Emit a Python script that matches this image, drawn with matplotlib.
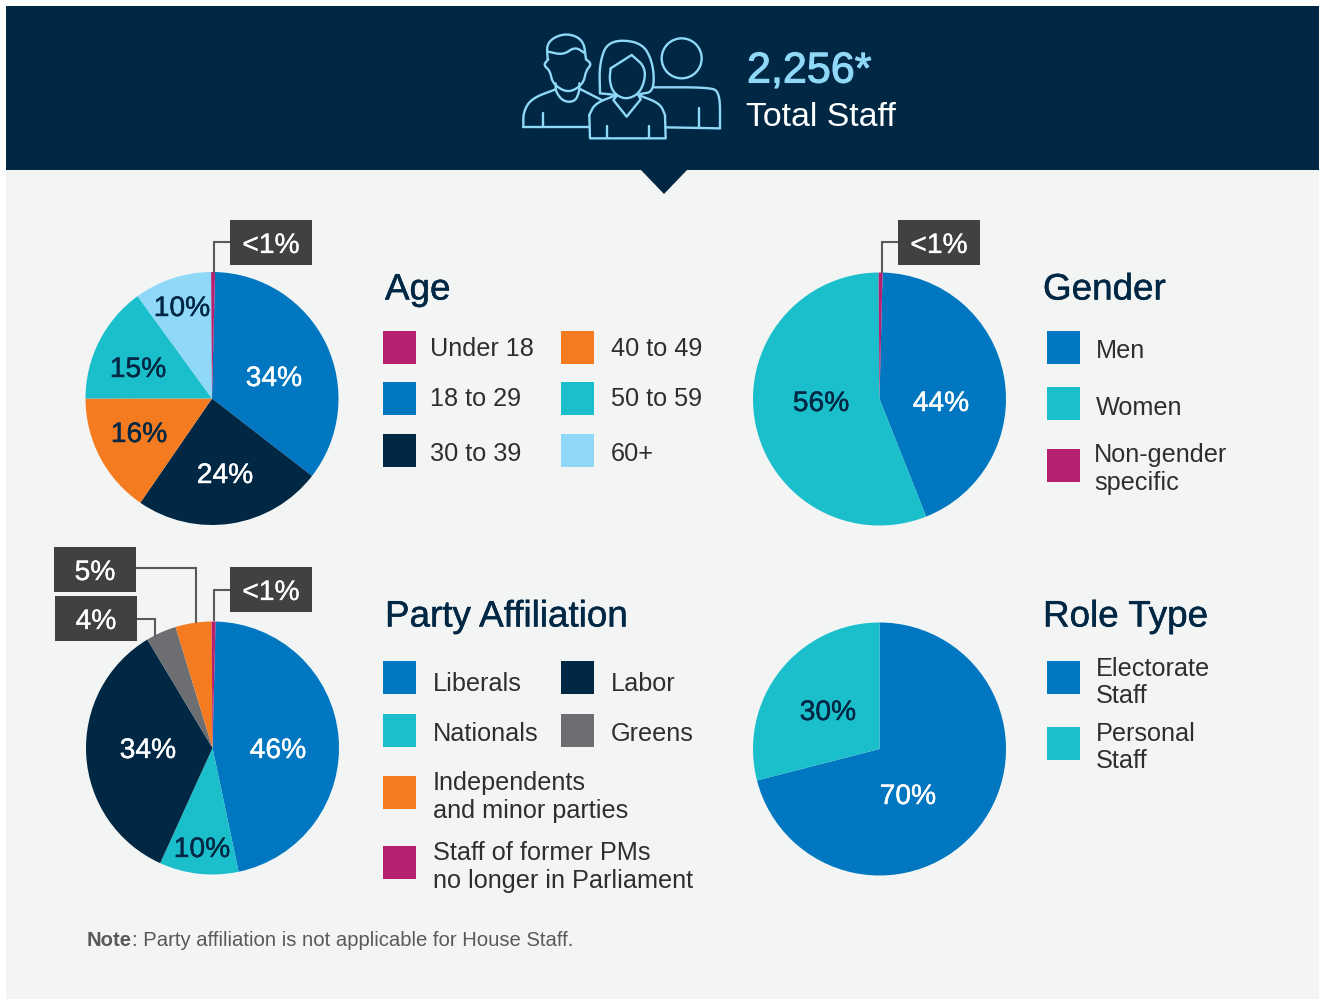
import matplotlib
matplotlib.use("Agg")
import matplotlib.pyplot as plt
import matplotlib.patheffects as pe
from matplotlib.patches import Rectangle, Polygon, Circle

plt.rcParams['font.family'] = ['Liberation Sans', 'DejaVu Sans']

W, H = 1319, 999

BLUE = "#0077C0"
NAVY = "#002744"
TEAL = "#1BBFCB"
ORANGE = "#F47B20"
MAGENTA = "#B7206F"
SKY = "#8FD8F8"
GREY = "#6D6E71"
BG = "#F3F5F5"
BOX = "#414042"
TEXT = "#2E2E30"

# slice sizes, printed labels are further down
age_names = ["18 to 29", "30 to 39", "40 to 49", "50 to 59", "60+", "Under 18"]
age_values = [35.1, 24.1, 15.4, 15.0, 9.9, 0.5]
age_labels = ["34%", "24%", "16%", "15%", "10%"]

gender_names = ["Men", "Women", "Non-gender specific"]
gender_values = [43.6, 55.9, 0.5]
gender_labels = ["44%", "56%"]

party_names = ["Liberals", "Nationals", "Labor", "Greens", "Independents and minor parties", "Staff of former PMs"]
party_values = [46.3, 10.1, 34.6, 3.9, 4.6, 0.5]
party_labels = ["46%", "10%", "34%"]

role_names = ["Electorate Staff", "Personal Staff"]
role_values = [71.0, 29.0]
role_labels = ["70%", "30%"]

fig = plt.figure(figsize=(W / 100, H / 100), dpi=100, facecolor="white")
bg = fig.add_axes([0, 0, 1, 1])
bg.set_xlim(0, W)
bg.set_ylim(H, 0)
bg.axis("off")


def draw_pie(cx, cy, r, values, colors, start=88.6):
    ax = fig.add_axes([(cx - r) / W, 1 - (cy + r) / H, 2 * r / W, 2 * r / H], zorder=2)
    ax.pie(values, colors=colors, startangle=start, counterclock=False, radius=1,
           wedgeprops={"linewidth": 0})
    ax.set_xlim(-1, 1)
    ax.set_ylim(-1, 1)
    return ax


def smooth(pts, n=3):
    # corner cutting, keeps the ends in place
    for _ in range(n):
        out = [pts[0]]
        for a, b in zip(pts[:-1], pts[1:]):
            out.append((0.75 * a[0] + 0.25 * b[0], 0.75 * a[1] + 0.25 * b[1]))
            out.append((0.25 * a[0] + 0.75 * b[0], 0.25 * a[1] + 0.75 * b[1]))
        out.append(pts[-1])
        pts = out
    return pts


def icon_line(pts, curved=True):
    # icon points were read from the 3x zoom of the header
    if curved:
        pts = smooth(pts)
    xs = [500 + p[0] / 3 for p in pts]
    ys = [p[1] / 3 for p in pts]
    fg.plot(xs, ys, color=SKY, lw=1.7, solid_capstyle="round", solid_joinstyle="round")


def medium(w=0.3, color="white"):
    # Liberation has no medium weight, a thin outline gets close
    return [pe.withStroke(linewidth=w, foreground=color)]


def callout(x0, y0, x1, y1, label, line):
    xs, ys = zip(*line)
    fg.plot(xs, ys, color="#58595B", lw=1.5, solid_joinstyle="miter", zorder=1)
    fg.add_patch(Rectangle((x0, y0), x1 - x0, y1 - y0, color=BOX, lw=0, zorder=2))
    fg.text((x0 + x1) / 2, (y0 + y1) / 2 + 3.5, label, color="white", fontsize=20.3,
            ha="center", va="center", zorder=3, path_effects=medium(0.2))


def legend_item(x, y, color, tx, lines, tys):
    fg.add_patch(Rectangle((x, y), 33, 33, color=color, lw=0))
    for s, ty in zip(lines, tys):
        fg.text(tx, ty + 2, s, color=TEXT, fontsize=18.2, ha="left", va="center")


# background and header
bg.add_patch(Rectangle((6, 170), W - 6, H - 170, color=BG, lw=0))
bg.add_patch(Rectangle((6, 6), W - 6, 164, color=NAVY, lw=0))
bg.add_patch(Polygon([(640, 169), (688, 169), (664, 194)], color=NAVY, lw=0))

# pies
draw_pie(212, 398.5, 126.5, age_values, [BLUE, NAVY, ORANGE, TEAL, SKY, MAGENTA])
draw_pie(879.5, 399, 126.5, gender_values, [BLUE, TEAL, MAGENTA])
draw_pie(212.5, 748, 126.5, party_values, [BLUE, TEAL, NAVY, GREY, ORANGE, MAGENTA])
draw_pie(879.5, 749, 126.5, role_values, [BLUE, TEAL], start=90)

# everything else sits on a transparent layer above the pies
fg = fig.add_axes([0, 0, 1, 1], zorder=3)
fg.set_xlim(0, W)
fg.set_ylim(H, 0)
fg.axis("off")
fg.patch.set_alpha(0)

# icon: man
icon_line([(143, 178), (140, 125), (195, 98), (250, 118), (258, 178)])
icon_line([(145, 155), (190, 165), (225, 140), (255, 160)])
icon_line([(145, 178), (130, 195), (150, 212), (158, 252), (205, 280), (250, 252), (258, 212), (275, 192), (258, 178)])
icon_line([(167, 250), (167, 275), (190, 305), (225, 305), (238, 275), (238, 250)])
icon_line([(167, 268), (95, 295), (70, 335), (70, 380)])
icon_line([(70, 380), (268, 380)], False)
icon_line([(238, 266), (305, 300)], False)
icon_line([(128, 338), (128, 380)], False)
# icon: person at the back
fg.add_patch(Circle((500 + 545 / 3, 175 / 3), 60 / 3, fill=False, ec=SKY, lw=1.7))
icon_line([(462, 262), (625, 262), (660, 275), (660, 385)])
icon_line([(497, 382), (660, 385)], False)
icon_line([(598, 325), (598, 382)], False)
# icon: woman
icon_line([(300, 280), (298, 190), (325, 120), (425, 125), (460, 190), (462, 275), (420, 282)])
icon_line([(300, 280), (350, 285)], False)
icon_line([(332, 205), (395, 165)], False)
icon_line([(395, 165), (440, 205), (425, 275), (380, 300), (340, 280), (328, 240), (332, 205)])
icon_line([(350, 285), (285, 310), (268, 345)])
icon_line([(268, 345), (270, 415), (497, 415), (495, 345)], False)
icon_line([(495, 345), (480, 310), (415, 285)])
icon_line([(350, 288), (340, 300), (380, 350), (422, 298), (415, 285)], False)
icon_line([(322, 378), (322, 415)], False)
icon_line([(448, 378), (448, 415)], False)

fg.text(747, 71.5, "2,256*", color=SKY, fontsize=31, ha="left", va="center",
        path_effects=medium(0.8, SKY))
fg.text(746, 118, "Total Staff", color="white", fontsize=24.4, ha="left", va="center")

# callouts
callout(230, 220, 312, 265, "<1%", [(230, 242), (213.5, 242), (213.5, 272)])
callout(898, 220, 980, 265, "<1%", [(898, 242), (881.5, 242), (881.5, 272)])
callout(230, 567, 312, 612, "<1%", [(230, 590), (213.5, 590), (213.5, 620)])
callout(54, 547, 136, 592, "5%", [(136, 568), (196, 568), (196, 622)])
callout(55, 596, 137, 641, "4%", [(137, 619), (155, 619), (155, 636)])

# labels on the slices
pct_pos = [
    (age_labels, [(274, 376), (225, 473), (139, 432), (138, 367), (182, 306)], ["white", "white", NAVY, NAVY, NAVY]),
    (gender_labels, [(941, 401), (821, 401)], ["white", NAVY]),
    (party_labels, [(278, 748), (202, 847), (148, 748)], ["white", NAVY, "white"]),
    (role_labels, [(908, 794), (828, 710)], ["white", NAVY]),
]
for labels, positions, cols in pct_pos:
    for s, (x, y), c in zip(labels, positions, cols):
        fg.text(x, y + 3, s, color=c, fontsize=20.3, ha="center", va="center",
                path_effects=medium(0.3, c))

# titles
for x, y, s in [(385, 287, "Age"), (1043, 287, "Gender"), (385, 614, "Party Affiliation"), (1043, 614, "Role Type")]:
    fg.text(x, y + 3, s, color=NAVY, fontsize=26.5, ha="left", va="center",
            path_effects=medium(0.35, NAVY))

# legends
legend_item(383, 331, MAGENTA, 430, ["Under 18"], [347])
legend_item(383, 382, BLUE, 430, ["18 to 29"], [397])
legend_item(383, 434, NAVY, 430, ["30 to 39"], [452])
legend_item(561, 331, ORANGE, 611, ["40 to 49"], [347])
legend_item(561, 382, TEAL, 611, ["50 to 59"], [397])
legend_item(561, 434, SKY, 611, ["60+"], [452])

legend_item(1047, 331, BLUE, 1096, ["Men"], [349])
legend_item(1047, 387, TEAL, 1096, ["Women"], [406])
legend_item(1047, 449, MAGENTA, 1094, ["Non-gender", "specific"], [453, 481])

legend_item(383, 661, BLUE, 433, ["Liberals"], [682])
legend_item(383, 714, TEAL, 433, ["Nationals"], [732])
legend_item(383, 776, ORANGE, 433, ["Independents", "and minor parties"], [781, 809])
legend_item(383, 846, MAGENTA, 433, ["Staff of former PMs", "no longer in Parliament"], [851, 879])
legend_item(561, 661, NAVY, 611, ["Labor"], [682])
legend_item(561, 714, GREY, 611, ["Greens"], [732])

legend_item(1047, 661, BLUE, 1096, ["Electorate", "Staff"], [667, 694])
legend_item(1047, 727, TEAL, 1096, ["Personal", "Staff"], [732, 759])

# note
note = fg.text(87, 940, "Note", color="#58595B", fontsize=14.6, fontweight="bold", ha="left", va="center")
fg.annotate(": Party affiliation is not applicable for House Staff.", xy=(1, 0.5), xycoords=note,
            color="#58595B", fontsize=14.6, ha="left", va="center")

fig.savefig("out.png", dpi=100)
plt.close(fig)
